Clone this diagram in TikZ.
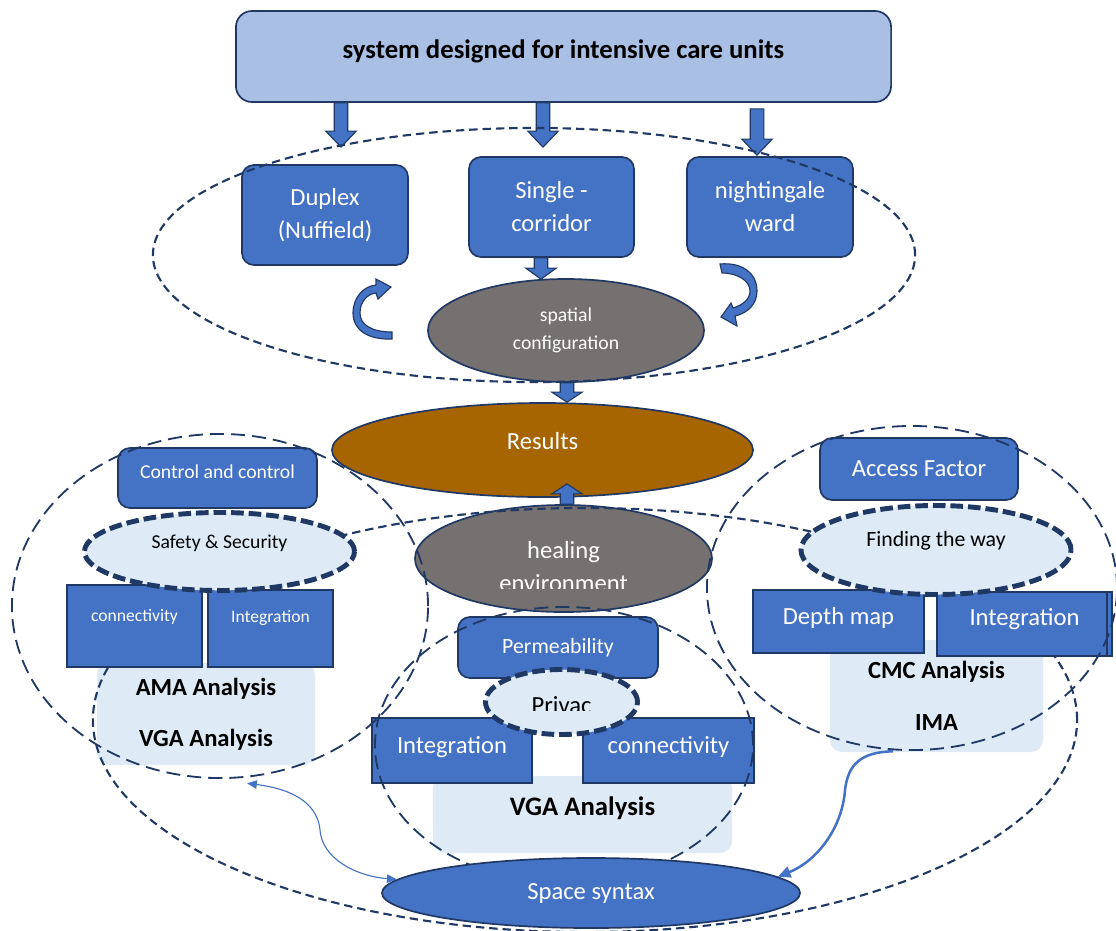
\documentclass[tikz,border=0pt]{standalone}
\usepackage{fontspec}
\setmainfont{Carlito}
\usetikzlibrary{shapes.geometric,arrows.meta,calc}
\definecolor{myblue}{HTML}{4472C4}
\definecolor{navy}{HTML}{203864}
\definecolor{titlefill}{HTML}{AABFE4}
\definecolor{paleblue}{HTML}{DEEBF7}
\definecolor{stone}{HTML}{767171}
\definecolor{ochre}{HTML}{A66500}
\newcommand{\upby}[2]{\raisebox{#1}[0pt][0pt]{#2}}
\begin{document}
\begin{tikzpicture}[x=0.025cm,y=-0.025cm,
  bluebox/.style={draw=navy,line width=1.2pt,fill=myblue,rounded corners=0.3cm,text=white,align=center,inner sep=0pt,font=\fontsize{17.5}{23.5}\selectfont},
  flatbox/.style={draw=navy,line width=1.2pt,fill=myblue,text=white,inner sep=0pt,font=\fontsize{17.5}{20}\selectfont},
  palebox/.style={fill=paleblue,rounded corners=0.3cm,inner sep=0pt,align=center,font=\bfseries\fontsize{17.5}{36.5}\selectfont},
  solidell/.style={ellipse,draw=navy,line width=1.2pt,inner sep=0pt,text=white,align=center,font=\fontsize{17.5}{23.5}\selectfont},
  boldring/.style={ellipse,draw=navy,fill=paleblue,line width=3.5pt,dash pattern=on 9pt off 3.5pt,inner sep=0pt},
  shortdash/.style={draw=navy,line width=1.5pt,dash pattern=on 6pt off 3.5pt},
  longdash/.style={draw=navy,line width=1.3pt,dash pattern=on 10pt off 5pt},
  fatarrow/.style={fill=myblue,draw=navy,line width=0.8pt,to path={let \p1=(\tikztostart),\p2=(\tikztotarget) in
    ({\x1-0.17cm},\y1) -- ({\x1-0.17cm},{\y2+(#1)}) -- ({\x1-0.38cm},{\y2+(#1)}) -- (\x2,\y2) -- ({\x1+0.38cm},{\y2+(#1)}) -- ({\x1+0.17cm},{\y2+(#1)}) -- ({\x1+0.17cm},\y1) -- cycle}},
  curl/.style={fill=myblue,draw=navy,line width=0.8pt},
  link/.style={myblue,line width=0.8pt}]
\useasboundingbox (0,0) rectangle (1116,930);
\node[palebox,minimum width=5.45cm,minimum height=2.55cm] (lvga) at (206,714) {AMA Analysis\\VGA Analysis};
\node[palebox,minimum width=5.325cm,minimum height=2.8cm] (cmc) at (936.5,696) {CMC Analysis\\IMA};
\node[palebox,font=\bfseries\fontsize{19}{22}\selectfont,minimum width=7.475cm,minimum height=1.925cm] (mvga) at (582.5,814.5) {\upby{-0.95pt}{VGA Analysis}};
\node[solidell,fill=stone,minimum width=6.9cm,minimum height=2.575cm,font=\fontsize{14}{19.5}\selectfont] (spatial) at (566,330.5) {spatial\\configuration};
\node[solidell,fill=ochre,minimum width=10.525cm,minimum height=2.35cm] (results) at (542.5,450) {\upby{0.6pt}{Results}};
\node[solidell,fill=stone,minimum width=7.425cm,minimum height=2.675cm] (heal) at (563.5,558.5) {};
\begin{scope}
\clip (400,500) rectangle (730,588);
\node[text=white,align=center,font=\fontsize{17.5}{23.5}\selectfont] (healtxt) at (563.5,566.5) {healing\\environment};
\end{scope}
\node[bluebox,fill=titlefill,text=black,font=\bfseries\fontsize{19}{22}\selectfont,rounded corners=0.4cm,minimum width=16.375cm,minimum height=2.275cm] (title) at (563.5,56.5) {\upby{-1.1pt}{system designed for intensive care units}};
\node[bluebox,minimum width=4.15cm,minimum height=2.5cm] (duplex) at (325,215) {Duplex\\(Nuffield)};
\node[bluebox,minimum width=4.125cm,minimum height=2.5cm] (single) at (551.5,207) {Single -\\corridor};
\node[bluebox,minimum width=4.15cm,minimum height=2.5cm] (night) at (770,207) {nightingale\\ward};
\draw[fatarrow=0.4cm] ($(title.south)+(-222.5,0)$) to ($(duplex.north)+(16,-17)$);
\draw[fatarrow=0.4cm] ($(title.south)+(-20.5,0)$) to ($(single.north)+(-8.5,-9)$);
\draw[fatarrow=0.4cm] ($(title.south)+(193.5,6)$) to ($(night.north)+(-13,-1)$);
\draw[fatarrow=0.275cm] ($(single.south)+(-10.5,0)$) to ($(spatial.north)+(-25,1)$);
\draw[fatarrow=0.25cm] ($(spatial.south)+(1,0)$) to ($(results.north)+(24.5,0)$);
\draw[fatarrow=-0.25cm] ($(heal.north)+(3.5,0)$) to ($(results.south)+(24.5,-14)$);
\draw[curl] (392,339) .. controls (368,340) and (353,330) .. (353,313) .. controls (353,297) and (364,286) .. (376,285) -- (376,279) -- (391,287) -- (378,299) -- (376,293) .. controls (367,294) and (360,302) .. (360,313) .. controls (360,325) and (372,332) .. (392,332) -- cycle;
\draw[curl] (720,264) .. controls (742,262) and (757,273) .. (757,291) .. controls (757,304) and (748,313) .. (735,316) -- (737,326) -- (721,317) -- (731,303) -- (733,308) .. controls (743,305) and (750,299) .. (750,291) .. controls (750,281) and (738,273) .. (722,273) -- cycle;
\draw[shortdash] (534,255) ellipse [x radius=9.525cm,y radius=3.175cm];
\draw[shortdash] (585,720) ellipse [x radius=12.3cm,y radius=5.3cm];
\node[flatbox,font=\fontsize{12.5}{15}\selectfont,minimum width=3.375cm,minimum height=2.05cm] (lconn) at (134.5,626) {\upby{3.35pt}{connectivity}};
\node[flatbox,font=\fontsize{12.5}{15}\selectfont,minimum width=3.125cm,minimum height=1.925cm] (lint) at (270.5,628.5) {\upby{4.4pt}{Integration}};
\node[bluebox,font=\fontsize{14}{17}\selectfont,minimum width=4.975cm,minimum height=1.5cm] (control) at (217.5,478) {\upby{-0.7pt}{Control and control}};
\node[boldring,font=\fontsize{14}{17}\selectfont,minimum width=6.75cm,minimum height=1.95cm] (safety) at (219.5,551.5) {\upby{1.8pt}{Safety \& Security}};
\node[flatbox,minimum width=4.275cm,minimum height=1.575cm] (depth) at (838.5,621.5) {\upby{-1.9pt}{Depth map}};
\node[flatbox,minimum width=4.375cm,minimum height=1.6cm] (rint) at (1024.5,624) {\upby{-0.85pt}{Integration}};
\draw[navy,line width=1.2pt] ($(rint.north east)+(-6,0)$) -- ($(rint.south east)+(-6,0)$);
\node[bluebox,minimum width=4.95cm,minimum height=1.55cm] (access) at (919,469) {Access Factor};
\node[boldring,font=\fontsize{15.5}{18}\selectfont,minimum width=6.75cm,minimum height=2.225cm] (finding) at (936,550) {\upby{2.45pt}{Finding the way}};
\node[bluebox,font=\fontsize{15.5}{18}\selectfont,minimum width=5cm,minimum height=1.525cm] (perm) at (558,647.5) {Permeability};
\node[flatbox,minimum width=4cm,minimum height=1.625cm] (mint) at (452,750.5) {\upby{-1.9pt}{Integration}};
\node[flatbox,minimum width=4.275cm,minimum height=1.625cm] (mconn) at (668.5,750.5) {\upby{-1.9pt}{connectivity}};
\node[boldring,minimum width=3.8cm,minimum height=1.625cm] (privacy) at (561.5,702) {};
\begin{scope}
\clip (470,650) rectangle (650,710);
\node[anchor=base,font=\fontsize{17.5}{20}\selectfont] (privtxt) at (561.5,713) {Privac};
\end{scope}
\draw[longdash] (220,606) ellipse [x radius=5.2cm,y radius=4.3cm];
\draw[longdash] (912,588) ellipse [x radius=5.125cm,y radius=4.05cm];
\draw[longdash] (564,745) ellipse [x radius=4.725cm,y radius=3.45cm];
\node[solidell,fill=myblue,minimum width=10.45cm,minimum height=1.75cm] (space) at (591,893) {Space syntax};
\draw[link,{Triangle[length=7pt,width=6pt]}-{Triangle[length=7pt,width=6pt]}] ($(lvga.south)+(41,18)$) .. controls (300,790) and (318,808) .. (320,830) .. controls (322,858) and (355,876) .. (space.176);
\draw[link,line width=1.8pt,-{Triangle[length=9pt,width=8pt]}] ($(cmc.south)+(-43.5,-1)$) .. controls (860,752) and (848,765) .. (845,790) .. controls (842,830) and (815,862) .. (space.5);
\end{tikzpicture}
\end{document}
